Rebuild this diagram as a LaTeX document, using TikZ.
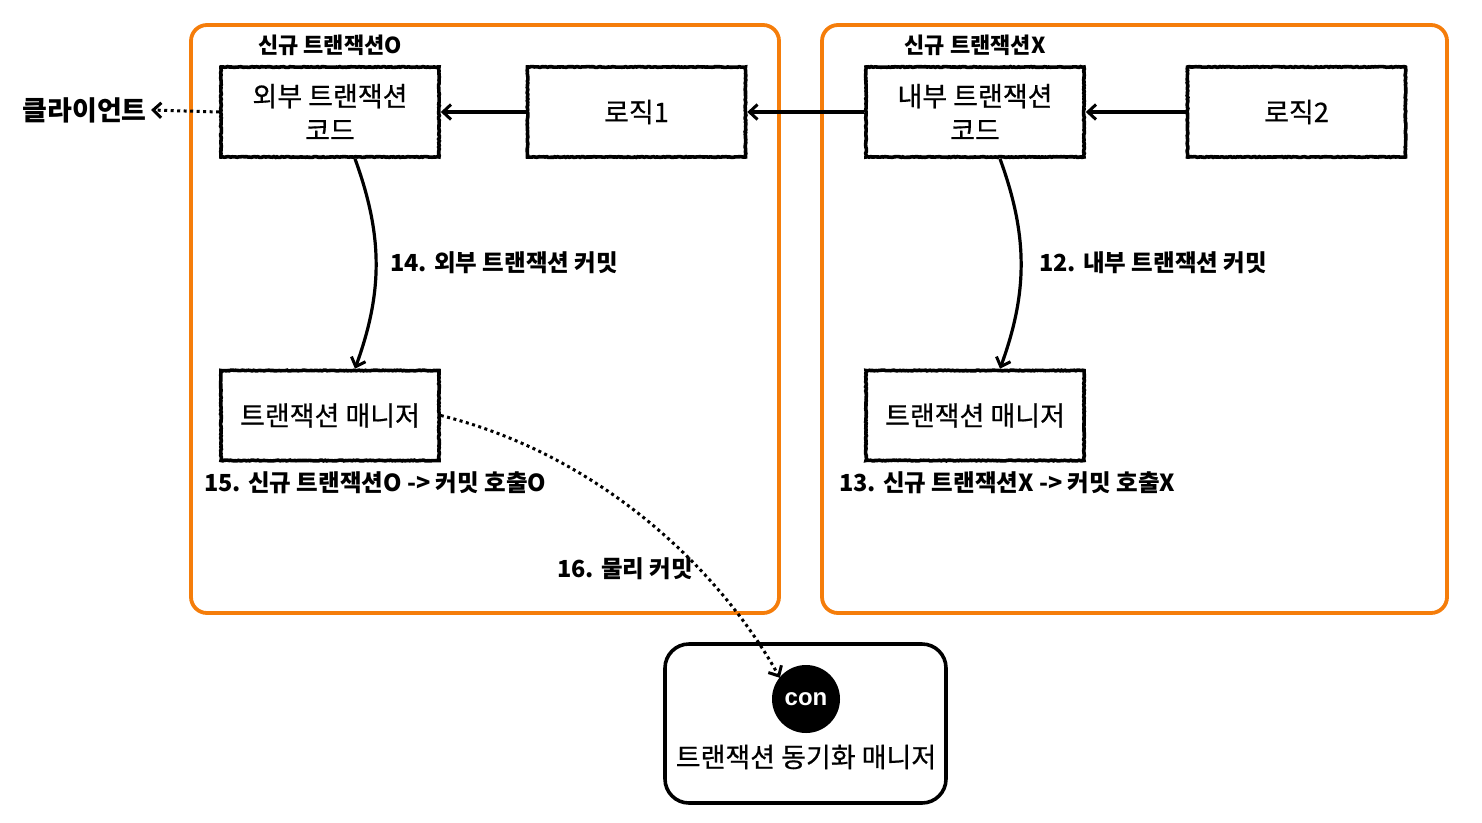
\documentclass[tikz,border=0pt]{standalone}
\usepackage{fontspec}
\setmainfont{Noto Sans CJK KR}
\newfontfamily\medfont[FakeBold=0.6]{Noto Sans CJK KR}
\newfontfamily\consans{Liberation Sans}
\usetikzlibrary{arrows.meta,decorations.pathmorphing}
\definecolor{orangeline}{RGB}{245,125,10}
\tikzset{
  sketch/.style={draw=black, line width=3.6pt, decorate,
    decoration={random steps, segment length=1.6pt, amplitude=0.4pt}},
  box/.style={sketch, minimum width=218pt, minimum height=90pt, inner sep=0pt,
    align=center, font=\medfont\fontsize{27}{34}\selectfont},
  group/.style={draw=orangeline, line width=3.8pt, rounded corners=16pt},
  lbl/.style={font=\fontsize{23.5}{28}\selectfont\bfseries, inner sep=0pt},
  toplbl/.style={font=\fontsize{22}{26}\selectfont\bfseries, inner sep=0pt},
  arr/.style={line width=3.2pt, -{Straight Barb[length=8pt,width=15pt,line width=3pt]}},
  darr/.style={line width=3pt, dash pattern=on 3pt off 3.5pt,
    -{Straight Barb[length=8pt,width=15pt,line width=3pt]}}
}
\begin{document}
\begin{tikzpicture}[x=1pt,y=-1pt]
\pgfmathsetseed{7}
\useasboundingbox (0,0) rectangle (1482,822);
% groups
\draw[group] (191,25) rectangle (779,613);
\draw[group] (822,25) rectangle (1447,613);
\node[toplbl] (tO) at (330,45) {신규 트랜잭션O};
\node[toplbl] (tX) at (975,45) {신규 트랜잭션X};
% boxes
\node[box] (outer) at (330,112) {외부 트랜잭션\\코드};
\node[box] (logic1) at (636.5,112) {로직1};
\node[box] (inner) at (975,112) {내부 트랜잭션\\코드};
\node[box] (logic2) at (1296.5,112) {로직2};
\node[box] (tm1) at (330,415.5) {트랜잭션 매니저};
\node[box] (tm2) at (975,415.5) {트랜잭션 매니저};
% sync manager
\node[draw=black, line width=3.6pt, rounded corners=24pt, minimum width=281pt, minimum height=159pt, inner sep=0pt] (sync) at (805.5,723.5) {};
\node[circle, fill=black, minimum size=68pt, inner sep=0pt, text=white,
  font=\consans\fontsize{24}{26}\selectfont\bfseries] (con) at (806,699) {\raisebox{-1pt}{con}};
\node[font=\medfont\fontsize{27}{32}\selectfont, inner sep=0pt] (syncl) at (806,757) {트랜잭션 동기화 매니저};
% client
\node[font=\fontsize{27}{31}\selectfont\bfseries, inner sep=0pt, anchor=east] (client) at (147,110) {클라이언트};
% arrows
\draw[darr] (outer.west) -- ([xshift=4pt]client.east);
\draw[arr] (logic1.west) -- (outer.east);
\draw[arr] (inner.west) -- (logic1.east);
\draw[arr] (logic2.west) -- (inner.east);
\draw[arr] ([xshift=25pt]outer.south) to[bend left=20] ([xshift=25pt]tm1.north);
\draw[arr] ([xshift=25pt]inner.south) to[bend left=20] ([xshift=25pt]tm2.north);
\draw[darr] (tm1.east) .. controls (600,455) and (720,570) .. ([shift={(-2pt,-3pt)}]con.north west);
% labels
\node[lbl, anchor=west] (l14) at (390,263) {14. 외부 트랜잭션 커밋};
\node[lbl, anchor=west] (l12) at (1039,263) {12. 내부 트랜잭션 커밋};
\node[lbl, anchor=west] (l15) at (204,483) {15. 신규 트랜잭션O -> 커밋 호출O};
\node[lbl, anchor=west] (l13) at (839,483) {13. 신규 트랜잭션X -> 커밋 호출X};
\node[lbl, anchor=west] (l16) at (557,569) {16. 물리 커밋};
\end{tikzpicture}
\end{document}
